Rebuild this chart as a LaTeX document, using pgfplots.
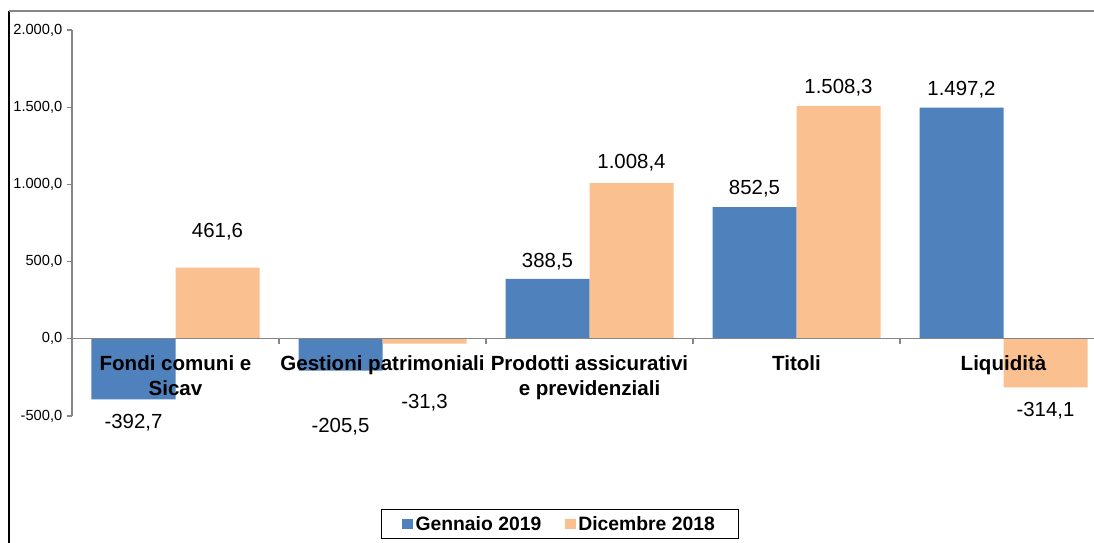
\documentclass[border=0pt]{standalone}
\usepackage{pgfplots}
\pgfplotsset{compat=1.18}
\usepackage{pgfplotstable}
\usepackage{fontspec}
\setmainfont{Liberation Sans}
\definecolor{cblue}{RGB}{79,129,189}
\definecolor{corange}{RGB}{250,192,144}
\definecolor{axisgray}{RGB}{134,134,134}

\pgfplotstableread{
x y s
0 -392.7 -17.5
1 -205.5 -42
2 388.5 13
3 852.5 13.5
4 1497.2 13.5
}\gen
\pgfplotstableread{
x y s
0 461.6 26.8
1 -31.3 -44.25
2 1008.4 15
3 1508.3 13.5
4 -314.1 -17.5
}\dic

\begin{document}
\begin{tikzpicture}
\path[use as bounding box, clip] (0pt,0pt) rectangle (820.5pt,406.5pt);
\fill[white] (0pt,0pt) rectangle (820.5pt,406.5pt);
\draw[black, line width=1pt] (6.75pt,398.25pt) -- (6.75pt,-5pt);
\draw[axisgray, line width=1pt] (6.75pt,398.25pt) -- (830pt,398.25pt);
\begin{axis}[
  at={(54pt,94.5pt)}, anchor=south west,
  scale only axis,
  axis on top,
  width=776.25pt, height=289.5pt,
  xmin=-0.5, xmax=4.5,
  ymin=-500, ymax=2000,
  axis x line=middle, axis y line=left,
  hide obscured x ticks=false, hide obscured y ticks=false,
  x axis line style={-, draw=axisgray, line width=0.8pt},
  y axis line style={-, draw=axisgray, line width=0.8pt},
  xtick={0,1,2,3,4},
  xticklabels={{Fondi comuni e\\Sicav},{Gestioni patrimoniali},{Prodotti assicurativi\\e previdenziali},{Titoli},{Liquidità}},
  x tick style={draw=none},
  x tick label style={font=\bfseries\fontsize{15.4}{18.75}\selectfont, align=center, anchor=north, yshift=-5.5pt},
  ytick={-500,0,500,1000,1500,2000},
  y tick style={draw=axisgray, line width=0.8pt},
  tick align=outside, major tick length=3.75pt,
  y tick label style={font=\fontsize{11}{13}\selectfont},
  /pgf/number format/.cd, fixed, fixed zerofill, precision=1, use comma, 1000 sep={.}, assume math mode=true,
  /pgfplots/.cd,
  nodes near coords,
  every node near coord/.append style={font=\fontsize{15.3}{18}\selectfont, anchor=center},
  legend columns=2,
  legend style={at={(0.4715,-0.28)}, anchor=center, draw=black, line width=0.6pt,
    font=\bfseries\fontsize{14.5}{17}\selectfont,
    /tikz/every even column/.append style={column sep=16pt},
    inner xsep=16pt, inner ysep=3pt},
  legend image code/.code={\fill[#1] (0pt,-3.9pt) rectangle (7.8pt,3.9pt);},
  clip=false,
]
\addplot[ybar, bar width=63pt, bar shift=-31.5pt, fill=cblue, draw=none,
  visualization depends on={\thisrow{s} \as \myshift},
  every node near coord/.append style={yshift=\myshift pt, xshift=-31.5pt}]
  table[x=x, y=y] {\gen};
\addplot[ybar, bar width=63pt, bar shift=31.5pt, fill=corange, draw=none,
  visualization depends on={\thisrow{s} \as \myshift},
  every node near coord/.append style={yshift=\myshift pt, xshift=31.5pt}]
  table[x=x, y=y] {\dic};
\legend{Gennaio 2019, Dicembre 2018}
\pgfplotsinvokeforeach{0.5,1.5,2.5,3.5}{
  \draw[axisgray, line width=0.8pt] (axis cs:#1,0) -- ++(0pt,-3.75pt);
}
\end{axis}
\end{tikzpicture}
\end{document}
